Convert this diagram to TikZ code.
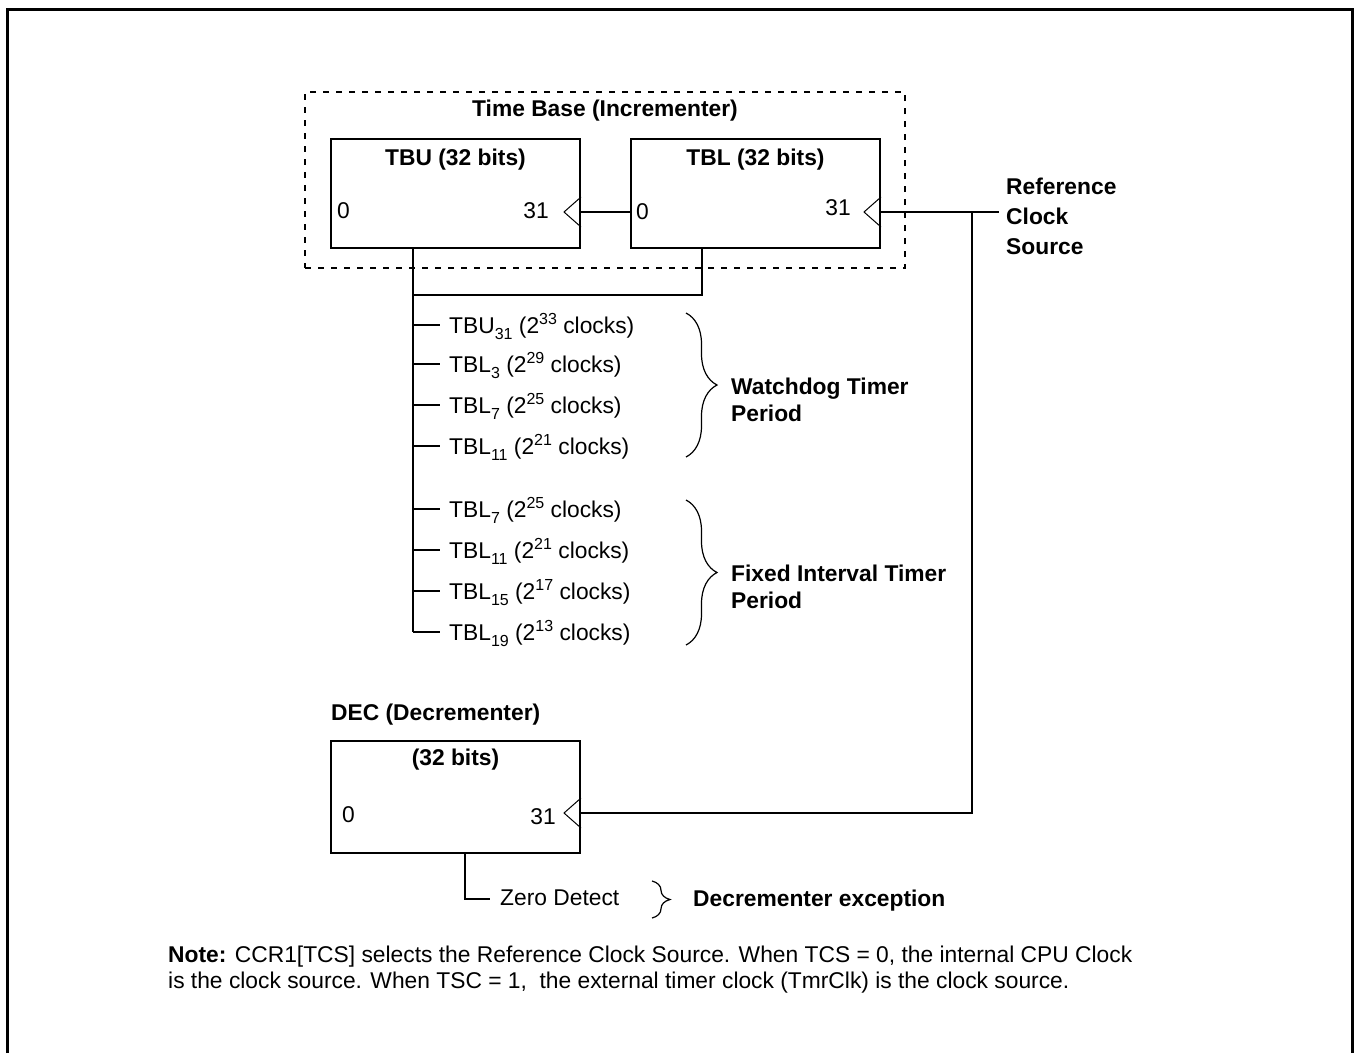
\documentclass[tikz,border=0pt]{standalone}
\usepackage{fontspec}
\setmainfont{Liberation Sans}
\usetikzlibrary{decorations.pathreplacing}
\newcommand\mysb[1]{\raisebox{-6pt}{\fontsize{16}{16}\selectfont #1}}
\newcommand\mysp[1]{\raisebox{9pt}{\fontsize{16}{16}\selectfont #1}}
\tikzset{
  regbox/.style={draw, line width=2pt, minimum width=249pt, minimum height=109pt, inner sep=0pt},
  wire/.style={line width=2pt},
  clk/.style={line width=1pt},
  lbl/.style={inner sep=0pt, anchor=west, text height=17pt, text depth=5pt},
  blbl/.style={inner sep=0pt, font=\fontsize{22.8}{27}\selectfont\bfseries},
  br/.style={line width=1.2pt, decorate, decoration={brace, amplitude=#1}},
  tap/.style={inner sep=0pt, anchor=west, text height=20pt, text depth=4pt}
}
\begin{document}
\begin{tikzpicture}[x=1pt, y=-1pt, font=\fontsize{22.8}{27}\selectfont]
\useasboundingbox (0,0) rectangle (1354,1053);
% outer frame
\draw[line width=3pt] (7,1053) -- (7,9) -- (1352,9) -- (1352,1053);

% time base group
\node[draw, line width=2.2pt, dash pattern=on 6pt off 7pt, minimum width=600pt, minimum height=176pt, inner sep=0pt] (tb) at (605,180) {};
\node[blbl] (tbtitle) at (605,111) {Time Base (Incrementer)};

\node[regbox] (tbu) at (455.5,193.5) {};
\node[regbox] (tbl) at (755.5,193.5) {};
\node[blbl] (tbut) at (tbu.center |- 0,160) {TBU (32 bits)};
\node[blbl] (tblt) at (tbl.center |- 0,160) {TBL (32 bits)};
\node[lbl] (tbu0) at (337,212) {0};
\node[lbl, anchor=east] (tbu31) at (549,212) {31};
\node[lbl] (tbl0) at (636,213) {0};
\node[lbl, anchor=east] (tbl31) at (851,209) {31};
\coordinate (tbuck) at ([yshift=-18.5pt]tbu.east);
\coordinate (tblck) at ([yshift=-18.5pt]tbl.east);
\coordinate (tblin) at ([yshift=-18.5pt]tbl.west);
\draw[clk] ([yshift=15pt]tbuck) -- ++(-17pt,-15pt) -- ++(17pt,-15pt);
\draw[clk] ([yshift=15pt]tblck) -- ++(-17pt,-15pt) -- ++(17pt,-15pt);
\draw[wire] (tbuck) -- (tblin);

% reference clock
\node[blbl, anchor=west, align=left, font=\fontsize{22.8}{30}\selectfont\bfseries] (ref) at (1006,216) {Reference\\Clock\\Source};
\coordinate (refend) at (999,212);
\coordinate (jn) at (972,212);
\draw[wire] (tblck) -- (refend);

% taps
\coordinate (sp) at (413,632);
\coordinate (tblj) at (702,295);
\draw[wire] (tbu.south -| sp) -- (sp);
\draw[wire] (tbl.south -| tblj) -- (tblj) -- (tblj -| sp);

\node[tap] (t1) at (449,325) {TBU\mysb{31} (2\mysp{33} clocks)};
\node[tap] (t2) at (449,364) {TBL\mysb{3} (2\mysp{29} clocks)};
\node[tap] (t3) at (449,405) {TBL\mysb{7} (2\mysp{25} clocks)};
\node[tap] (t4) at (449,446) {TBL\mysb{11} (2\mysp{21} clocks)};
\node[tap] (t5) at (449,509) {TBL\mysb{7} (2\mysp{25} clocks)};
\node[tap] (t6) at (449,550) {TBL\mysb{11} (2\mysp{21} clocks)};
\node[tap] (t7) at (449,591) {TBL\mysb{15} (2\mysp{17} clocks)};
\node[tap] (t8) at (449,632) {TBL\mysb{19} (2\mysp{13} clocks)};
\foreach \t in {t1,t2,t3,t4,t5,t6,t7,t8}
  \draw[wire] (\t.west -| sp) -- ([xshift=-9pt]\t.west);

% braces
\coordinate (wdt) at (686,313);
\coordinate (wdb) at (686,457);
\draw[br=31pt] (wdt) -- (wdb);
\node[blbl, anchor=west, align=left] (wd) at (731,400) {Watchdog Timer\\Period};
\coordinate (fit) at (686,500);
\coordinate (fib) at (686,645);
\draw[br=31pt] (fit) -- (fib);
\node[blbl, anchor=west, align=left] (fi) at (731,587) {Fixed Interval Timer\\Period};

% decrementer
\node[blbl, anchor=west] (dect) at (331,715) {DEC (Decrementer)};
\node[regbox, minimum height=112pt] (dec) at (455.5,797) {};
\node[blbl] (dec32) at (dec.center |- 0,760) {(32 bits)};
\node[lbl] (dec0) at (342,816) {0};
\node[lbl, anchor=east] (dec31) at (556,818) {31};
\coordinate (decck) at ([yshift=-16pt]dec.east);
\draw[clk] ([yshift=15pt]decck) -- ++(-17pt,-15pt) -- ++(17pt,-15pt);
\draw[wire] (decck) -- (decck -| jn) -- (jn);

% zero detect
\coordinate (zd) at (465,899);
\node[lbl] (zdt) at (500,899) {Zero Detect};
\draw[wire] (dec.south -| zd) -- (zd) -- ([xshift=-10pt]zdt.west);
\coordinate (zbt) at (652,881);
\coordinate (zbb) at (652,918);
\draw[br=18pt] (zbt) -- (zbb);
\node[blbl, anchor=west] (dexc) at (693,901) {Decrementer exception};

% note
\node[inner sep=0pt, anchor=west, align=left, font=\fontsize{22.8}{26}\selectfont] (note) at (168,970)
  {\textbf{Note:} CCR1[TCS] selects the Reference Clock Source. When TCS = 0, the internal CPU Clock\\
   is the clock source. When TSC = 1,\ \ the external timer clock (TmrClk) is the clock source.};
\end{tikzpicture}
\end{document}
